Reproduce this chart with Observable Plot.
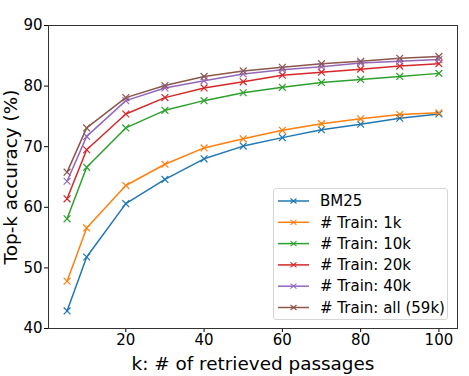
<!DOCTYPE html>
<html><head><meta charset="utf-8">
<script src="https://cdn.jsdelivr.net/npm/d3@7"></script>
<script src="https://cdn.jsdelivr.net/npm/@observablehq/plot@0.6"></script>
<style>
body{margin:0;background:#fff;font-family:"DejaVu Sans",sans-serif;}
#wrap{position:relative;width:469px;height:376px;}
#legend{position:absolute;left:273px;top:188px;width:175px;height:132px;border:1px solid #d6d6d6;border-radius:3px;background:rgba(255,255,255,0.85);box-sizing:border-box;}
</style>
</head><body>
<div id="wrap"><div id="legend"></div></div>
<script>
const ks = [5, 10, 20, 30, 40, 50, 60, 70, 80, 90, 100];
const seriesNames = ["BM25", "# Train: 1k", "# Train: 10k", "# Train: 20k", "# Train: 40k", "# Train: all (59k)"];
const colors = ["#1f77b4", "#ff7f0e", "#2ca02c", "#d62728", "#9467bd", "#8c564b"];
const bm25    = [42.9, 51.8, 60.6, 64.6, 68.0, 70.1, 71.5, 72.8, 73.7, 74.7, 75.4];
const train1k = [47.8, 56.6, 63.6, 67.1, 69.8, 71.3, 72.7, 73.8, 74.6, 75.3, 75.6];
const train10k= [58.1, 66.6, 73.1, 76.0, 77.6, 78.9, 79.8, 80.6, 81.1, 81.6, 82.1];
const train20k= [61.4, 69.5, 75.4, 78.1, 79.7, 80.7, 81.8, 82.3, 82.8, 83.3, 83.7];
const train40k= [64.3, 71.7, 77.6, 79.7, 80.9, 82.0, 82.7, 83.2, 83.8, 84.1, 84.4];
const trainAll= [65.8, 73.1, 78.1, 80.1, 81.6, 82.5, 83.1, 83.7, 84.1, 84.6, 84.9];
const xTicks = [20, 40, 60, 80, 100];
const yTicks = [40, 50, 60, 70, 80, 90];

const allSeries = [bm25, train1k, train10k, train20k, train40k, trainAll];
const data = [];
allSeries.forEach((vals, i) => vals.forEach((v, j) => data.push({k: ks[j], acc: v, series: seriesNames[i]})));

const font = "DejaVu Sans, sans-serif";
const xLabel = "k: # of retrieved passages";
const yLabel = "Top-k accuracy (%)";
const plot = Plot.plot({
  width: 469, height: 376,
  marginLeft: 48, marginRight: 12, marginTop: 25, marginBottom: 48,
  style: {fontFamily: font, fontSize: "15px", color: "#000", background: "transparent"},
  x: {domain: [0.25, 104.75]},
  y: {domain: [40, 90]},
  color: {domain: seriesNames, range: colors},
  marks: [
    Plot.axisX({ticks: xTicks, tickSize: 4, tickPadding: 2, fontSize: 15, label: xLabel, labelAnchor: "center", labelArrow: "none", labelOffset: 41}),
    Plot.axisY({ticks: yTicks, tickSize: 4, tickPadding: 2, fontSize: 15, label: yLabel, labelAnchor: "center", labelArrow: "none", labelOffset: 45}),
    Plot.line(data, {x: "k", y: "acc", z: "series", stroke: "series", strokeWidth: 1.5}),
    Plot.dot(data, {x: "k", y: "acc", stroke: "series", symbol: "times", r: 3.2, strokeWidth: 1.2}),
    Plot.frame({stroke: "#333", strokeWidth: 1})
  ]
});
d3.select(plot).selectAll("[aria-label='x-axis label'] text, [aria-label='y-axis label'] text").style("font-size", "18.4px");
document.getElementById("wrap").insertBefore(plot, document.getElementById("legend"));
plot.style.position = "absolute"; plot.style.left = "0"; plot.style.top = "0";

// legend
const lg = d3.select("#legend").append("svg").attr("width", 175).attr("height", 132);
seriesNames.forEach((name, i) => {
  const y = 12 + i * 21.3;
  const g = lg.append("g").attr("transform", `translate(0,${y})`);
  g.append("line").attr("x1", 4).attr("x2", 35).attr("y1", 0).attr("y2", 0).attr("stroke", colors[i]).attr("stroke-width", 1.5);
  g.append("path").attr("d", "M16.5,-2.5L22.5,2.5M16.5,2.5L22.5,-2.5").attr("stroke", colors[i]).attr("stroke-width", 1.1);
  g.append("text").attr("x", 46).attr("y", 0).attr("dy", "0.35em").attr("font-family", font).attr("font-size", 15).attr("fill", "#000").text(name);
});
</script>
</body></html>
